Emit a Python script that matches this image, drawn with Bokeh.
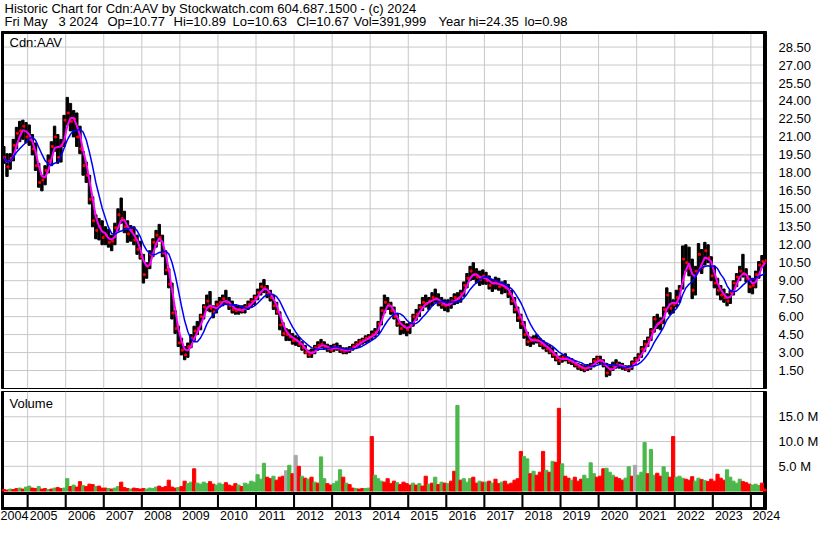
import pandas as pd
from bokeh.plotting import figure
from bokeh.layouts import column
from bokeh.models import (Range1d, FixedTicker, PrintfTickFormatter, Span, LinearAxis,
                          CustomJSTickFormatter)
from bokeh.core.properties import value
from bokeh.embed import file_html
from bokeh.resources import INLINE

FONT = "Liberation Sans"

# ---------------- data (monthly, May 2004 .. May 2024) ----------------
high = [
    20.2, 19.6, 19.6, 20.8, 21.8, 22.3, 22.4, 22.2,
    22.0, 21.2, 20.5, 18.8, 17.8, 18.6, 19.5, 20.6, 21.9, 21.2, 20.8, 22.8,
    24.3, 23.8, 23.2, 23.0, 21.9, 19.8, 18.9, 17.8, 16.0, 14.5, 14.2, 14.0,
    13.5, 13.3, 12.8, 13.8, 15.0, 15.9, 14.8, 14.0, 13.6, 13.5, 12.8, 12.3,
    11.2, 10.5, 11.5, 12.5, 13.2, 13.7, 12.8, 11.5, 10.0, 8.8, 6.5, 5.2,
    4.2, 3.5, 3.8, 4.5, 5.2, 5.6, 6.2, 7.0, 7.8, 8.1, 6.9, 7.3,
    7.6, 7.8, 8.2, 7.6, 7.3, 7.0, 6.9, 6.9, 7.0, 7.3, 7.5, 7.8,
    8.3, 8.8, 9.1, 8.6, 8.2, 7.8, 7.2, 6.4, 5.5, 5.0, 4.9, 4.6,
    4.4, 4.3, 3.9, 3.6, 3.2, 3.3, 3.6, 3.9, 4.1, 3.9, 3.7, 3.6,
    3.7, 3.8, 3.6, 3.4, 3.4, 3.5, 3.7, 3.9, 4.1, 4.2, 4.4, 4.5,
    4.8, 5.0, 5.6, 6.8, 7.8, 7.6, 7.2, 6.8, 6.2, 5.6, 5.6, 5.4,
    5.5, 6.2, 6.6, 7.0, 7.6, 7.8, 7.6, 8.0, 8.3, 7.9, 7.6, 7.4,
    7.4, 7.6, 7.9, 8.0, 8.2, 8.9, 9.6, 10.2, 10.5, 10.0, 9.8, 9.9,
    9.7, 9.4, 9.1, 9.3, 9.2, 8.9, 9.0, 8.7, 8.2, 7.6, 6.8, 6.2,
    5.6, 4.7, 4.3, 4.4, 4.5, 4.2, 4.0, 3.8, 3.6, 3.4, 3.0, 2.7,
    2.8, 2.9, 2.6, 2.5, 2.3, 2.1, 2.0, 1.9, 2.0, 2.1, 2.5, 2.7,
    2.7, 2.4, 2.1, 1.9, 2.2, 2.4, 2.2, 2.1, 1.9, 1.9, 2.3, 2.6,
    2.9, 3.5, 4.0, 4.3, 5.0, 6.0, 6.2, 5.9, 6.8, 8.4, 8.0, 7.4,
    8.2, 8.6, 11.9, 12.0, 11.8, 10.8, 10.2, 12.1, 11.6, 12.2, 12.0, 11.0,
    10.2, 9.2, 8.6, 8.3, 7.9, 8.2, 9.0, 9.6, 10.2, 11.2, 10.0, 9.4,
    9.2, 9.8, 10.6, 11.1, 10.89,
]
low = [
    18.8, 17.7, 18.3, 19.0, 20.0, 20.6, 20.8, 20.5,
    20.3, 19.5, 18.2, 16.8, 16.5, 17.0, 18.0, 18.6, 19.8, 18.8, 18.9, 20.2,
    22.0, 21.5, 21.0, 20.2, 19.6, 17.8, 17.2, 15.4, 13.5, 12.5, 12.4, 12.0,
    12.0, 11.8, 11.5, 12.0, 13.2, 13.8, 13.0, 12.2, 12.3, 12.0, 11.2, 10.8,
    8.8, 9.2, 10.0, 11.0, 11.8, 12.3, 11.0, 9.5, 8.4, 5.8, 4.6, 3.5,
    2.8, 2.4, 2.6, 3.4, 4.0, 4.5, 4.9, 5.8, 6.5, 6.4, 5.9, 6.3,
    6.8, 6.9, 7.0, 6.6, 6.3, 6.2, 6.2, 6.3, 6.3, 6.6, 6.8, 7.0,
    7.4, 7.8, 8.0, 7.6, 7.3, 6.6, 6.2, 4.9, 4.4, 4.0, 4.0, 3.7,
    3.6, 3.5, 3.2, 2.9, 2.6, 2.6, 2.9, 3.2, 3.4, 3.3, 3.1, 3.0,
    3.1, 3.2, 3.0, 2.9, 2.9, 3.0, 3.2, 3.4, 3.5, 3.7, 3.8, 3.9,
    4.1, 4.3, 4.6, 5.3, 6.3, 6.6, 6.2, 5.8, 5.2, 4.5, 4.6, 4.4,
    4.6, 5.2, 5.7, 6.0, 6.5, 6.8, 6.6, 6.9, 7.2, 6.9, 6.7, 6.5,
    6.4, 6.7, 7.0, 7.1, 7.2, 7.7, 8.4, 9.0, 9.1, 8.8, 8.6, 8.7,
    8.7, 8.3, 8.1, 8.3, 8.2, 7.9, 8.0, 7.6, 7.0, 6.3, 5.6, 5.0,
    4.2, 3.6, 3.5, 3.7, 3.8, 3.5, 3.3, 3.1, 2.9, 2.6, 2.3, 2.0,
    2.2, 2.3, 2.1, 2.0, 1.8, 1.6, 1.5, 1.4, 1.5, 1.6, 1.8, 2.1,
    2.1, 1.8, 0.98, 1.1, 1.5, 1.7, 1.7, 1.6, 1.5, 1.4, 1.6, 2.0,
    2.3, 2.6, 3.1, 3.5, 4.0, 4.7, 5.0, 4.9, 5.4, 6.4, 6.2, 6.3,
    6.8, 7.2, 8.3, 9.8, 9.4, 7.5, 7.8, 9.8, 9.6, 10.3, 10.5, 9.0,
    8.4, 7.8, 7.4, 7.2, 6.9, 7.1, 7.8, 8.5, 9.0, 9.3, 8.9, 8.0,
    7.9, 8.4, 9.2, 10.1, 10.63,
]
close = [
    19.3, 18.5, 19.2, 20.3, 21.3, 21.5, 21.9, 21.0,
    20.8, 20.0, 18.6, 17.2, 17.4, 18.2, 19.0, 20.2, 21.0, 19.3, 20.3, 22.4,
    23.0, 22.3, 22.5, 21.0, 20.0, 18.6, 17.8, 15.8, 14.0, 13.2, 13.5, 12.6,
    12.8, 12.2, 12.3, 13.4, 14.5, 14.2, 13.5, 12.9, 13.2, 12.4, 11.6, 11.0,
    9.5, 10.2, 11.2, 12.2, 12.8, 12.6, 11.3, 9.9, 8.7, 6.3, 5.0, 3.8,
    3.2, 2.8, 3.5, 4.2, 4.8, 5.0, 6.0, 6.8, 7.3, 6.7, 6.4, 7.0,
    7.2, 7.5, 7.2, 6.9, 6.6, 6.5, 6.6, 6.5, 6.8, 7.0, 7.3, 7.6,
    8.0, 8.5, 8.4, 7.9, 7.6, 6.9, 6.4, 5.3, 4.6, 4.5, 4.3, 4.0,
    4.0, 3.7, 3.4, 3.0, 2.8, 3.0, 3.4, 3.6, 3.7, 3.5, 3.3, 3.2,
    3.5, 3.4, 3.2, 3.1, 3.2, 3.3, 3.5, 3.7, 3.9, 4.0, 4.2, 4.3,
    4.5, 4.7, 5.4, 6.5, 7.2, 7.0, 6.5, 6.0, 5.4, 5.0, 5.2, 4.9,
    5.3, 6.0, 6.2, 6.8, 7.2, 7.1, 7.3, 7.6, 7.5, 7.2, 7.0, 6.9,
    7.0, 7.3, 7.6, 7.5, 7.9, 8.6, 9.2, 9.8, 9.5, 9.3, 9.1, 9.4,
    9.0, 8.6, 8.8, 8.9, 8.5, 8.6, 8.4, 7.9, 7.3, 6.6, 5.9, 5.4,
    4.5, 3.9, 4.0, 4.1, 4.0, 3.7, 3.6, 3.3, 3.1, 2.8, 2.5, 2.3,
    2.6, 2.5, 2.3, 2.2, 2.0, 1.8, 1.7, 1.6, 1.8, 1.9, 2.3, 2.5,
    2.3, 2.0, 1.3, 1.6, 1.9, 2.0, 1.9, 1.8, 1.6, 1.7, 2.1, 2.4,
    2.7, 3.3, 3.7, 4.1, 4.8, 5.8, 5.4, 5.5, 6.6, 7.8, 6.7, 7.0,
    7.6, 8.3, 10.8, 10.5, 10.0, 8.2, 9.8, 11.2, 10.1, 11.5, 10.9, 9.4,
    8.8, 8.2, 7.8, 7.6, 7.3, 8.0, 8.8, 9.3, 9.8, 9.6, 9.2, 8.5,
    8.6, 9.5, 10.3, 10.6, 10.67,
]
# typical weekly volume in each month, millions of shares
volume = [
    0.3, 0.2, 0.4, 0.3, 0.5, 0.6, 0.4, 0.8,
    1.0, 0.6, 0.5, 0.9, 0.4, 0.5, 0.3, 0.4, 0.6, 0.7, 0.5, 0.6,
    2.5, 0.9, 1.2, 0.8, 1.9, 1.1, 0.9, 1.4, 1.3, 0.9, 1.0, 0.6,
    0.6, 0.5, 0.4, 0.6, 0.9, 1.8, 0.7, 0.5, 0.4, 0.6, 0.5, 0.4,
    0.5, 0.4, 0.6, 0.5, 0.8, 1.0, 0.7, 0.9, 2.2, 0.8, 0.6, 0.7,
    0.9, 2.0, 1.5, 1.8, 4.5, 1.6, 1.4, 1.8, 1.5, 1.9, 1.4, 1.2,
    1.6, 1.3, 1.7, 1.2, 1.0, 1.5, 1.2, 0.9, 1.6, 1.4, 2.0, 1.8,
    3.3, 2.4, 5.6, 2.8, 2.5, 3.0, 2.2, 2.8, 3.0, 4.1, 5.2, 3.5,
    7.2, 5.0, 3.0, 2.6, 2.4, 2.8, 1.8, 1.6, 6.9, 2.5, 1.5, 1.2,
    1.5, 2.0, 4.3, 2.8, 1.6, 1.3, 0.6, 0.5, 0.4, 0.5, 0.5, 0.6,
    11.0, 3.2, 2.5, 2.0, 1.8, 2.5, 1.5, 2.0, 1.7, 1.3, 1.8, 1.5,
    1.2, 1.6, 1.2, 1.5, 1.0, 3.0, 1.4, 1.6, 2.8, 1.3, 1.8, 1.6,
    1.5, 2.0, 4.0, 17.3, 2.2, 2.5, 1.8, 2.5, 2.8, 1.6, 2.0, 1.8,
    1.8, 2.0, 1.6, 2.4, 1.5, 1.8, 2.0, 1.4, 1.6, 2.2, 2.5, 8.0,
    7.0, 6.5, 3.5, 4.0, 3.2, 3.8, 8.0, 4.2, 3.8, 6.0, 5.8, 16.7,
    5.5, 3.0, 2.6, 2.2, 2.8, 2.0, 2.4, 3.2, 2.5, 5.7, 3.5, 2.8,
    3.0, 4.5, 4.6, 3.8, 3.2, 2.8, 2.5, 2.2, 2.6, 4.9, 3.0, 5.2,
    3.2, 3.8, 9.8, 3.5, 8.4, 3.2, 3.6, 3.0, 4.9, 3.8, 2.8, 11.0,
    2.8, 3.0, 2.6, 2.4, 2.2, 2.9, 2.0, 2.6, 2.3, 2.1, 1.9, 2.4,
    2.0, 3.4, 2.6, 2.2, 4.3, 2.8, 2.0, 1.6, 2.4, 1.9, 1.7, 1.4,
    1.2, 1.4, 1.1, 1.6, 0.4,
]
# G = up, R = down, N = unchanged
vol_dir = "".join([
    "RRGRRGRG",
    "GRRGRRGRGRRG", "GRGRRGRRRGRR", "RGRGGRRRGRRR", "RGGGGRRRRRRG",
    "RRGGRGGGGRRG", "GGRRRRGRGGGG", "GGGRRGRRRNGR", "NRGRGRGRGGRR",
    "GGGRGRRGRRGG", "RGGGRRRRGRRR", "RGRGRRGRGRGR", "GRRGRGGGRRGR",
    "GRGRRGRRRRRR", "GGRGRRRGRGRR", "GRRGRRRGGGGR", "RRGGGRRRGGRN",
    "GGGRGGRRGGRR", "GGGRRRGGRGRR", "RRRRGGGGGRRR",
    "GGGRR",
])
year_ticks = [2005, 2006, 2007, 2008, 2009, 2010, 2011, 2012, 2013, 2014,
              2015, 2016, 2017, 2018, 2019, 2020, 2021, 2022, 2023, 2024]
price_ticks = [1.5, 3.0, 4.5, 6.0, 7.5, 9.0, 10.5, 12.0, 13.5, 15.0, 16.5, 18.0, 19.5,
               21.0, 22.5, 24.0, 25.5, 27.0, 28.5]
vol_ticks = [5, 10, 15]
header1 = "Historic Chart for Cdn:AAV by Stockwatch.com 604.687.1500 - (c) 2024"
header2_parts = ["Fri May", "3 2024", "Op=10.77", "Hi=10.89", "Lo=10.63", "Cl=10.67",
                 "Vol=391,999", "Year hi=24.35", "lo=0.98"]

# ---------------- derived ----------------
months = pd.date_range("2004-05-01", periods=len(close), freq="MS")
x = list(months.year + (months.month - 0.5) / 12.0)
cs = pd.Series(close)
ma_short = list(cs.rolling(3, min_periods=1).mean())
ma_long = list(cs.rolling(7, min_periods=1).mean())
cmap = {"G": "#4cb84c", "R": "#ff0000", "N": "#a8a8a8"}
vcolors = [cmap[c] for c in vol_dir]

# ---------------- layout ----------------
LB, RB = 1, 0
FW = 765                               # frame width in px
X0, X1 = 2004.314, 2024.411
PXY = FW / (X1 - X0)                   # pixels per year
xr = Range1d(X0, X1)
GRID = "#c8c8c8"
MW = 1.0 / 12.0
PY1 = 29.8
PFH = 357
PPU = PFH / PY1                        # price px per unit
VY0, VY1 = -0.29, 20.1
VVH, BAND = 101, 17                    # volume area and year-tick band heights (px)
VPU = VVH / (VY1 - VY0)                # volume px per million
YB0 = VY0 - BAND / VPU                 # bottom of the year-tick band
part_x = [2, 56, 105, 171, 230, 294, 351, 436, 522]   # header field positions (px)


def mkfig(fh, yr, **kw):
    fig = figure(frame_width=FW, frame_height=fh, x_range=xr, y_range=yr,
                 output_backend="svg", toolbar_location=None, x_axis_location=None,
                 min_border_left=LB, min_border_right=RB, **kw)
    fig.background_fill_color = "white"
    fig.border_fill_color = "white"
    fig.grid.visible = False
    return fig


def style_right_axis(fig, ticks, fmt):
    ax = fig.yaxis[0]
    ax.ticker = FixedTicker(ticks=ticks)
    ax.formatter = PrintfTickFormatter(format=fmt)
    ax.axis_line_color = None
    ax.major_tick_line_color = None
    ax.minor_tick_line_color = None
    ax.major_label_standoff = 6
    ax.major_label_text_font = FONT
    ax.major_label_text_font_size = "13px"
    ax.major_label_text_color = "black"


def frame_lines(fig, yticks, ybot, ytop):
    for t in year_ticks:
        fig.add_layout(Span(location=t, dimension="height", line_color=GRID, line_width=1, level="underlay"))
    for t in yticks:
        fig.add_layout(Span(location=t, dimension="width", line_color=GRID, line_width=1, level="underlay"))
    fig.vbar(x=[X0 + 1.0 / PXY], bottom=[ybot], top=[ytop], width=2.0 / PXY, color="black")
    fig.vbar(x=[X1 - 1.5 / PXY], bottom=[ybot], top=[ytop], width=3.0 / PXY, color="black")


# header (x data units == pixels)
hdr = figure(frame_width=FW, frame_height=30, x_range=Range1d(-LB, FW - LB), y_range=Range1d(30, 0),
             output_backend="svg", toolbar_location=None,
             x_axis_location=None, y_axis_location=None,
             min_border_left=LB, min_border_right=RB, min_border_top=0, min_border_bottom=0)
hdr.outline_line_color = None
hdr.grid.visible = False
hdr.text(x=[2], y=[0], text=[header1], text_baseline="top", text_align="left",
         text_font=value(FONT), text_font_size="13px", text_color="black")
hdr.text(x=part_x, y=[13] * len(part_x), text=header2_parts, text_baseline="top", text_align="left",
         text_font=value(FONT), text_font_size="13px", text_color="black")

# price panel
pp = mkfig(PFH, Range1d(0, PY1), y_axis_location="right", min_border_top=1, min_border_bottom=1)
pp.outline_line_color = "black"
pp.outline_line_width = 1
style_right_axis(pp, price_ticks, "%.2f")
frame_lines(pp, price_ticks, 0, PY1)
pp.hbar(y=[PY1 - 1.0 / PPU], left=[X0], right=[X1], height=2.0 / PPU, color="black")
pp.vbar(x=x, bottom=low, top=high, width=MW * 0.75, color="black")
pp.hbar(y=close, left=x, right=[v + MW * 0.6 for v in x], height=0.16, color="#ff0000")
pp.line(x, ma_short, color="#ff00ff", line_width=2)
pp.line(x, ma_long, color="#0000ff", line_width=1.5)
pp.text(x=[X0], y=[PY1], text=["Cdn:AAV"], x_offset=8, y_offset=3, text_baseline="top",
        text_font=value(FONT), text_font_size="13px", text_color="black")

# volume panel; its frame also holds the band of year ticks below the bars
vp = mkfig(VVH + BAND, Range1d(YB0, VY1), y_axis_location="right", min_border_top=2, min_border_bottom=0)
vp.outline_line_color = "black"
vp.outline_line_width = 1
style_right_axis(vp, vol_ticks, "%.1f M")
frame_lines(vp, vol_ticks, YB0, VY1)
vp.vbar(x=x, bottom=0, top=volume, width=MW, color=vcolors)
vp.text(x=[X0], y=[VY1], text=["Volume"], x_offset=8, y_offset=4, text_baseline="top",
        text_font=value(FONT), text_font_size="13px", text_color="black")
vp.quad(left=[X0], right=[X1], bottom=[VY0 - 2.0 / VPU], top=[VY0], color="black")
vp.quad(left=[X0], right=[X1], bottom=[YB0], top=[YB0 + 2.0 / VPU], color="black")
vp.vbar(x=year_ticks, bottom=YB0, top=VY0, width=1.0 / PXY, color="black")

label_pos = [X0 + 13.0 / PXY] + [t + 16.0 / PXY for t in year_ticks[:-1]] + [X1 - 0.2 / PXY]
ax2 = LinearAxis(ticker=FixedTicker(ticks=label_pos),
                 formatter=CustomJSTickFormatter(code="return String(Math.round(tick - 0.4));"),
                 major_tick_in=0, major_tick_out=0, minor_tick_line_color=None,
                 axis_line_color=None,
                 major_label_standoff=1, major_label_text_font=FONT,
                 major_label_text_font_size="12.5px", major_label_text_color="black")
vp.add_layout(ax2, "below")

layout = column(hdr, pp, vp, spacing=0)

open("out.html", "w").write(file_html(layout, INLINE))
